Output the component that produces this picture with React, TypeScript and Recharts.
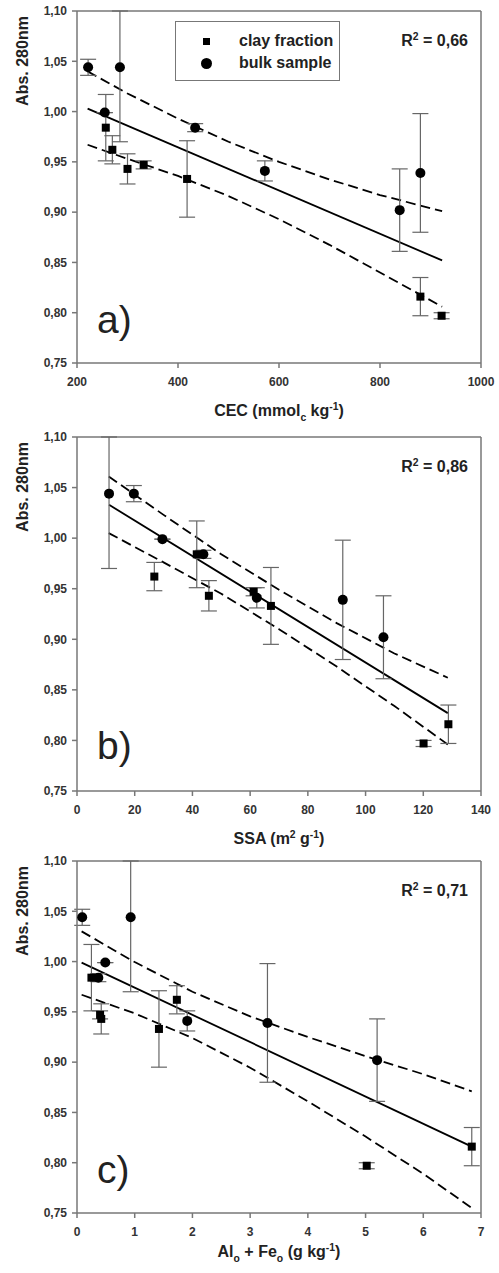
import { ComposedChart, Scatter, Line, XAxis, YAxis, ErrorBar, ReferenceLine } from 'recharts'

const font = "'Liberation Sans', Arial, sans-serif"

// y values shared by all three panels (same samples)
const clayAbs = [0.984, 0.962, 0.943, 0.947, 0.933, 0.816, 0.797]
const clayErr = [0.033, 0.014, 0.015, 0.004, 0.038, 0.019, 0.003]
const bulkAbs = [1.044, 1.044, 0.999, 0.984, 0.941, 0.902, 0.939]
const bulkErr = [0.008, 0.074, 0, 0.004, 0.010, 0.041, 0.059]

// x values per panel
const clayCec = [257, 270, 300, 332, 418, 880, 922]
const bulkCec = [222, 285, 255, 434, 572, 839, 880]
const claySsa = [41.5, 26.8, 45.7, 61.2, 67.2, 128.7, 120.1]
const bulkSsa = [19.7, 11.1, 29.6, 43.8, 62.3, 106.2, 92.1]
const clayAlFe = [0.25, 1.73, 0.42, 0.4, 1.42, 6.84, 5.02]
const bulkAlFe = [0.09, 0.93, 0.49, 0.37, 1.91, 5.2, 3.3]

// regression lines and 95% bands
const fitCecX = [221, 923]
const fitCecY = [1.003, 0.852]
const bandCecX = [221, 300, 400, 500, 600, 700, 800, 923]
const upperCec = [1.04, 1.018, 0.993, 0.97, 0.95, 0.9325, 0.917, 0.901]
const lowerCec = [0.967, 0.953, 0.936, 0.916, 0.893, 0.8675, 0.84, 0.806]

const fitSsaX = [11.1, 128.5]
const fitSsaY = [1.033, 0.827]
const bandSsaX = [11, 30, 50, 70, 90, 110, 128.5]
const upperSsa = [1.061, 1.023, 0.984, 0.949, 0.916, 0.886, 0.862]
const lowerSsa = [1.005, 0.976, 0.945, 0.91, 0.873, 0.834, 0.796]

const fitAlFeX = [0.08, 6.84]
const fitAlFeY = [0.999, 0.816]
const bandAlFeX = [0.08, 1, 2, 3, 4, 5, 6, 6.84]
const upperAlFe = [1.03, 0.9995, 0.97, 0.9455, 0.925, 0.906, 0.888, 0.871]
const lowerAlFe = [0.967, 0.9485, 0.924, 0.8945, 0.861, 0.826, 0.789, 0.755]

const yTicks = [0.75, 0.8, 0.85, 0.9, 0.95, 1.0, 1.05, 1.1]
const seriesNames = ['clay fraction', 'bulk sample']
const yMax = 1.1

type Seg = { t: string; s?: 'sub' | 'sup' }

// error bars are cut at the top of the frame, as in the original figure
const zip = (xs: number[], ys: number[], es?: number[]) =>
  xs.map((x, i) => {
    const e = es ? es[i] : 0
    return { x, y: ys[i], err: [e, Math.min(e, yMax - ys[i])] }
  })

function Rich({ segs, x, y, size, anchor = 'middle', rotate = false }: { segs: Seg[]; x: number; y: number; size: number; anchor?: string; rotate?: boolean }) {
  let shift = 0
  return (
    <text
      x={x}
      y={y}
      fontSize={size}
      fontWeight="bold"
      fill="#222"
      fontFamily={font}
      textAnchor={anchor}
      transform={rotate ? `rotate(-90 ${x} ${y})` : undefined}
    >
      {segs.map((g, i) => {
        const target = g.s === 'sub' ? size * 0.3 : g.s === 'sup' ? -size * 0.4 : 0
        const dy = target - shift
        shift = target
        return (
          <tspan key={i} dy={dy} fontSize={g.s ? size * 0.65 : size}>
            {g.t}
          </tspan>
        )
      })}
    </text>
  )
}

const Square = (p: any) => <rect x={p.cx - 4} y={p.cy - 4} width={8} height={8} fill="#000" />
const Dot = (p: any) => <circle cx={p.cx} cy={p.cy} r={5} fill="#000" />

interface PanelProps {
  top: number
  height: number
  marginTop: number
  xHeight: number
  titleOffset: number
  domain: [number, number]
  xTicks: number[]
  clayX: number[]
  bulkX: number[]
  fitX: number[]
  fitY: number[]
  bandX: number[]
  upper: number[]
  lower: number[]
  xTitle: Seg[]
  r2: string
  tag: string
  legend?: boolean
}

function Panel(p: PanelProps) {
  const plotBottom = p.height - p.xHeight
  const tick = { fontSize: 12, fontWeight: 'bold', fill: '#333', fontFamily: font }
  return (
    <div style={{ position: 'absolute', left: 0, top: p.top, width: 499, height: p.height }}>
      <ComposedChart width={499} height={p.height} margin={{ top: p.marginTop, right: 18, bottom: 0, left: 0 }}>
        <XAxis
          type="number"
          dataKey="x"
          domain={p.domain}
          ticks={p.xTicks}
          allowDataOverflow
          height={p.xHeight}
          stroke="#777"
          strokeWidth={1.5}
          tickSize={5}
          tickMargin={9}
          tick={tick}
        />
        <YAxis
          type="number"
          dataKey="y"
          domain={[0.75, yMax]}
          ticks={yTicks}
          allowDataOverflow
          width={77}
          stroke="#777"
          strokeWidth={1.5}
          tickSize={5}
          tickMargin={5}
          tick={tick}
          tickFormatter={(v: number) => v.toFixed(2).replace('.', ',')}
        />
        <ReferenceLine y={yMax} stroke="#777" strokeWidth={1.5} />
        <ReferenceLine x={p.domain[1]} stroke="#777" strokeWidth={1.5} />
        <Line data={zip(p.bandX, p.upper)} dataKey="y" stroke="#000" strokeWidth={1.8} strokeDasharray="10 5" dot={false} legendType="none" isAnimationActive={false} />
        <Line data={zip(p.bandX, p.lower)} dataKey="y" stroke="#000" strokeWidth={1.8} strokeDasharray="10 5" dot={false} legendType="none" isAnimationActive={false} />
        <Line data={zip(p.fitX, p.fitY)} dataKey="y" stroke="#000" strokeWidth={1.8} dot={false} legendType="none" isAnimationActive={false} />
        <Scatter name={seriesNames[0]} data={zip(p.clayX, clayAbs, clayErr)} shape={Square} isAnimationActive={false}>
          <ErrorBar dataKey="err" direction="y" width={8} stroke="#666" strokeWidth={1.2} />
        </Scatter>
        <Scatter name={seriesNames[1]} data={zip(p.bulkX, bulkAbs, bulkErr)} shape={Dot} isAnimationActive={false}>
          <ErrorBar dataKey="err" direction="y" width={8} stroke="#666" strokeWidth={1.2} />
        </Scatter>
        <Rich segs={[{ t: 'Abs. 280nm' }]} x={28} y={p.marginTop + 50} size={16} rotate />
        <Rich segs={p.xTitle} x={279} y={plotBottom + p.titleOffset} size={16} />
        <Rich segs={[{ t: 'R' }, { t: '2', s: 'sup' }, { t: ' = ' + p.r2 }]} x={468} y={p.marginTop + 35} size={16} anchor="end" />
        <text x={97} y={p.marginTop + 322} fontSize={39} fill="#222" fontFamily={font}>
          {p.tag}
        </text>
      </ComposedChart>
      {p.legend && (
        <div
          style={{
            position: 'absolute',
            left: 175,
            top: 21,
            width: 163,
            height: 58,
            border: '1.5px solid #777',
            fontFamily: font,
            fontWeight: 'bold',
            fontSize: 16,
            color: '#222',
          }}
        >
          {seriesNames.map((n, i) => (
            <div key={n} style={{ position: 'absolute', left: 0, top: 9 + i * 22, height: 20, display: 'flex', alignItems: 'center' }}>
              <span style={{ width: 60, display: 'flex', justifyContent: 'center' }}>
                {i === 0 ? (
                  <span style={{ width: 7, height: 7, background: '#000', display: 'inline-block' }} />
                ) : (
                  <span style={{ width: 11, height: 11, borderRadius: 6, background: '#000', display: 'inline-block' }} />
                )}
              </span>
              <span style={{ marginLeft: 3 }}>{n}</span>
            </div>
          ))}
        </div>
      )}
    </div>
  )
}

export default function App() {
  return (
    <div style={{ position: 'absolute', left: 0, top: 0, width: 499, height: 1273, background: '#fff', overflow: 'hidden' }}>
      <Panel
        top={0}
        height={425}
        marginTop={11}
        xHeight={62}
        titleOffset={53}
        domain={[200, 1000]}
        xTicks={[200, 400, 600, 800, 1000]}
        clayX={clayCec}
        bulkX={bulkCec}
        fitX={fitCecX}
        fitY={fitCecY}
        bandX={bandCecX}
        upper={upperCec}
        lower={lowerCec}
        xTitle={[{ t: 'CEC (mmol' }, { t: 'c', s: 'sub' }, { t: ' kg' }, { t: '-1', s: 'sup' }, { t: ')' }]}
        r2="0,66"
        tag="a)"
        legend
      />
      <Panel
        top={425}
        height={425}
        marginTop={12}
        xHeight={59}
        titleOffset={53}
        domain={[0, 140]}
        xTicks={[0, 20, 40, 60, 80, 100, 120, 140]}
        clayX={claySsa}
        bulkX={bulkSsa}
        fitX={fitSsaX}
        fitY={fitSsaY}
        bandX={bandSsaX}
        upper={upperSsa}
        lower={lowerSsa}
        xTitle={[{ t: 'SSA (m' }, { t: '2', s: 'sup' }, { t: ' g' }, { t: '-1', s: 'sup' }, { t: ')' }]}
        r2="0,86"
        tag="b)"
      />
      <Panel
        top={850}
        height={423}
        marginTop={11}
        xHeight={60}
        titleOffset={44}
        domain={[0, 7]}
        xTicks={[0, 1, 2, 3, 4, 5, 6, 7]}
        clayX={clayAlFe}
        bulkX={bulkAlFe}
        fitX={fitAlFeX}
        fitY={fitAlFeY}
        bandX={bandAlFeX}
        upper={upperAlFe}
        lower={lowerAlFe}
        xTitle={[{ t: 'Al' }, { t: 'o', s: 'sub' }, { t: ' + Fe' }, { t: 'o', s: 'sub' }, { t: ' (g kg' }, { t: '-1', s: 'sup' }, { t: ')' }]}
        r2="0,71"
        tag="c)"
      />
    </div>
  )
}
